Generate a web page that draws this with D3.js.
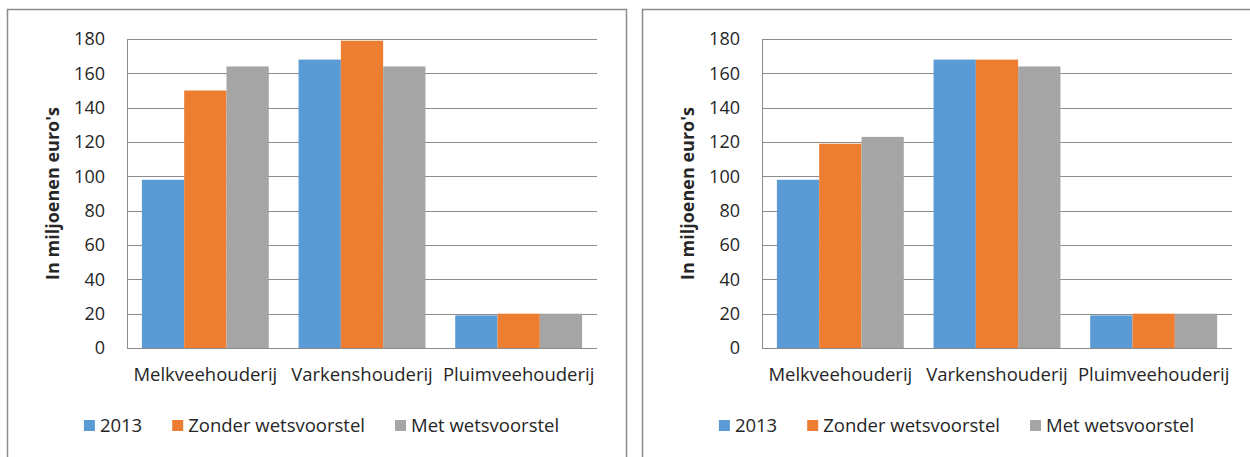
<!DOCTYPE html>
<html>
<head>
<meta charset="utf-8">
<script src="https://cdn.jsdelivr.net/npm/d3@7"></script>
<style>
  body { margin: 0; background: #fff; }
  text { font-family: "Open Sans", sans-serif; fill: #262626; }
</style>
</head>
<body>
<div id="chart"></div>
<script>
// data
var categories = ["Melkveehouderij", "Varkenshouderij", "Pluimveehouderij"];
var seriesNames = ["2013", "Zonder wetsvoorstel", "Met wetsvoorstel"];
var seriesColors = ["#5b9bd5", "#ed7d31", "#a5a5a5"];
// left chart: one row per category, one value per series
var leftValues = [
    [98, 150, 164],
    [168, 179, 164],
    [19, 20, 20]
];
// right chart
var rightValues = [
    [98, 119, 123],
    [168, 168, 164],
    [19, 20, 20]
];
var yTicks = [0, 20, 40, 60, 80, 100, 120, 140, 160, 180];
var yTitle = "In miljoenen euro's";

var svg = d3.select("#chart")
    .append("svg")
    .attr("width", 1250)
    .attr("height", 457);

draw_panel(leftValues, 7);
draw_panel(rightValues, 642);

function draw_panel(values, offsetX) {
    var panelW = 619,
        margin = {top: 30, left: 120},
        width = 470,
        height = 309;

    var panel = svg.append("g")
        .attr("transform", "translate(" + offsetX + ",9)");

    // outer frame (runs off the bottom of the picture)
    panel.append("rect")
        .attr("x", 0.5)
        .attr("y", 0.5)
        .attr("width", panelW)
        .attr("height", 470)
        .attr("fill", "none")
        .attr("stroke", "#8c8c8c")
        .attr("stroke-width", 1.5);

    var g = panel.append("g")
        .attr("transform", "translate(" + margin.left + "," + margin.top + ")");

    var x0 = d3.scaleBand()
        .domain(categories)
        .range([0, width])
        .paddingInner(0.19)
        .paddingOuter(0.095);

    var x1 = d3.scaleBand()
        .domain(seriesNames)
        .range([0, x0.bandwidth()]);

    var y = d3.scaleLinear()
        .domain([0, 180])
        .range([height, 0]);

    // gridlines
    g.append("g")
        .selectAll("line")
        .data(yTicks)
        .enter()
        .append("line")
        .attr("x1", 0)
        .attr("x2", width)
        .attr("y1", function (d) { return Math.round(y(d)) + 0.5; })
        .attr("y2", function (d) { return Math.round(y(d)) + 0.5; })
        .attr("stroke", "#8c8c8c")
        .attr("stroke-width", 1);

    // y axis line
    g.append("line")
        .attr("x1", 0.5).attr("x2", 0.5)
        .attr("y1", 0).attr("y2", height)
        .attr("stroke", "#8c8c8c");

    // bars
    var groups = g.selectAll(".grp")
        .data(values)
        .enter()
        .append("g")
        .attr("class", "grp")
        .attr("transform", function (d, i) {
            return "translate(" + x0(categories[i]) + ",0)";
        });

    groups.selectAll("rect")
        .data(function (d) { return d; })
        .enter()
        .append("rect")
        .attr("x", function (d, j) { return x1(seriesNames[j]); })
        .attr("y", function (d) { return y(d); })
        .attr("width", x1.bandwidth())
        .attr("height", function (d) { return height - y(d); })
        .attr("fill", function (d, j) { return seriesColors[j]; });

    // y axis with labels only
    var yAxis = g.append("g")
        .style("font-size", "18px")
        .call(d3.axisLeft(y).tickValues(yTicks).tickSize(0).tickPadding(22));
    yAxis.select(".domain").remove();
    yAxis.selectAll("text")
        .attr("fill", "#262626")
        .style("font-family", "'Open Sans', sans-serif");

    // x axis labels
    var xAxis = g.append("g")
        .attr("transform", "translate(0," + height + ")")
        .style("font-size", "18.5px")
        .call(d3.axisBottom(x0).tickSize(0).tickPadding(20));
    xAxis.select(".domain").remove();
    xAxis.selectAll("text")
        .attr("fill", "#262626")
        .style("font-family", "'Open Sans', sans-serif");

    // y title
    panel.append("text")
        .attr("transform", "translate(52," + (margin.top + height / 2) + ") rotate(-90)")
        .attr("text-anchor", "middle")
        .style("font-size", "18px")
        .style("font-weight", "bold")
        .text(yTitle);

    // legend, centred in the panel
    var legend = panel.append("g");
    var items = legend.selectAll("g")
        .data(seriesNames)
        .enter()
        .append("g");
    items.append("rect")
        .attr("width", 11)
        .attr("height", 11)
        .attr("y", 411)
        .attr("fill", function (d, i) { return seriesColors[i]; });
    items.append("text")
        .attr("x", 16)
        .attr("y", 423)
        .style("font-size", "18.5px")
        .text(function (d) { return d; });

    var pos = 0;
    items.each(function () {
        var w = d3.select(this).select("text").node().getComputedTextLength();
        d3.select(this).attr("transform", "translate(" + pos + ",0)");
        pos += 16 + w + 30;
    });
    var total = pos - 30;
    legend.attr("transform", "translate(" + (314.5 - total / 2) + ",0)");
}
</script>
</body>
</html>
